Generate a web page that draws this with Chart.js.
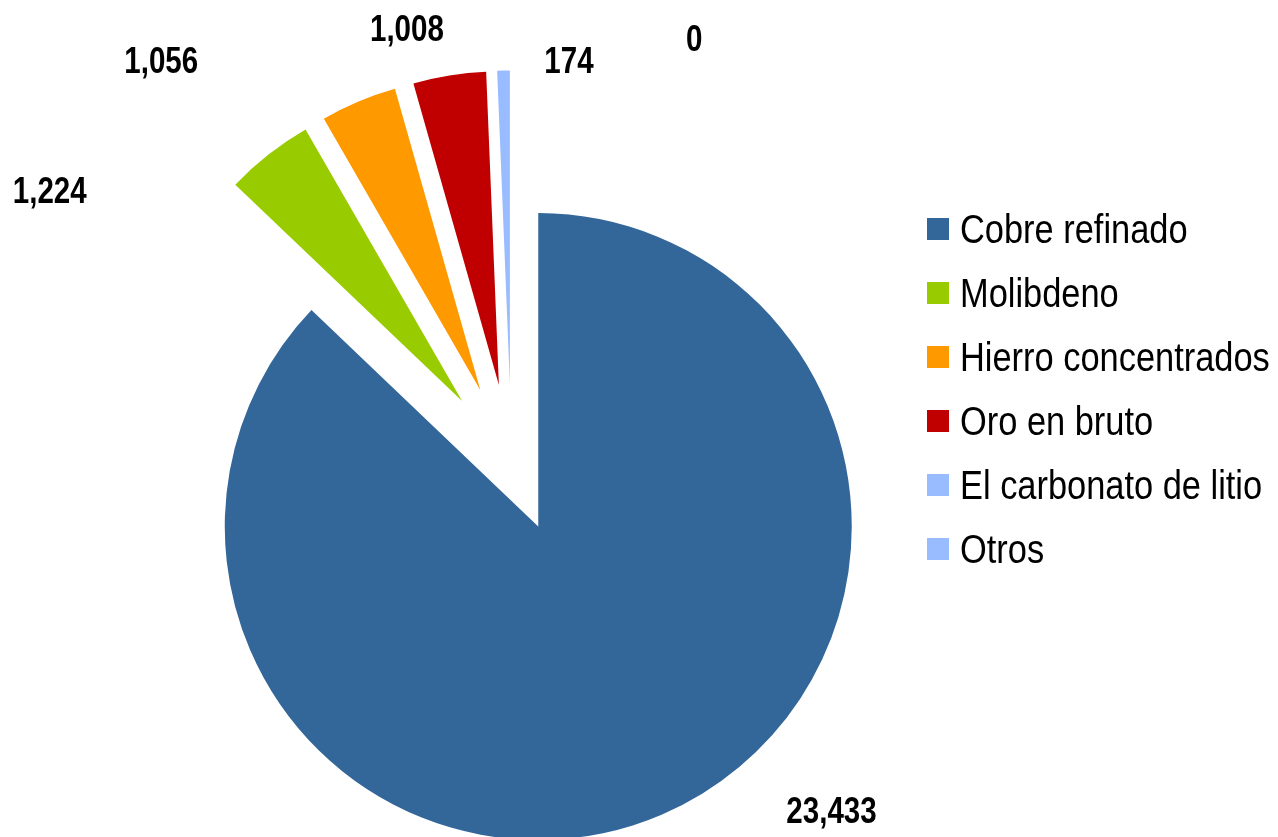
<!DOCTYPE html>
<html>
<head>
<meta charset="utf-8">
<script src="https://cdn.jsdelivr.net/npm/chart.js@4.4.1/dist/chart.umd.min.js"></script>
<style>
  html, body { margin: 0; padding: 0; background: #fff; overflow: hidden; }
  #wrap { position: relative; width: 1278px; height: 837px; overflow: hidden; }
  #chart { position: absolute; left: 0; top: 0; }
  #legend {
    position: absolute; left: 927px; top: 197px;
    font-family: "Liberation Sans", Arial, sans-serif;
    font-size: 40px; color: #000;
  }
  .row { display: flex; align-items: center; height: 64px; line-height: 64px; white-space: nowrap; }
  .box { width: 22px; height: 22px; margin-right: 11px; flex: none; }
  .txt { display: inline-block; transform: scaleX(0.86); transform-origin: left center; }
</style>
</head>
<body>
<div id="wrap">
  <canvas id="chart" width="1278" height="928"></canvas>
  <div id="legend"></div>
</div>
<script>
const labels = ["Cobre refinado", "Molibdeno", "Hierro concentrados", "Oro en bruto", "El carbonato de litio", "Otros"];
const values = [23433, 1224, 1056, 1008, 174, 0];
const colors = ["#336699", "#99CC00", "#FF9900", "#C00000", "#99BBFF", "#99BBFF"];

// how far each slice is pulled out from the centre (px)
const explode = [68, 80, 80, 80, 80, 80];
// value label placement: [angle clockwise from 12 o'clock (deg), distance from centre (px)]
const labelPlace = [[137.2, 471], [300.7, 537], [319.1, 535], [346.5, 448], [8.1, 408], [23.2, 464]];

const fmt = (v) => v.toLocaleString("en-US");

const explodePlugin = {
  id: "explode",
  beforeDatasetDraw(chart, args) {
    const ctx = chart.ctx;
    args.meta.data.forEach((arc, i) => {
      const mid = (arc.startAngle + arc.endAngle) / 2;
      ctx.save();
      ctx.translate(Math.cos(mid) * explode[i], Math.sin(mid) * explode[i]);
      arc.draw(ctx, chart.chartArea);
      ctx.restore();
    });
    return false;
  },
};

// bold narrow numbers next to the slices (Arial Narrow look: squeezed Liberation Sans)
const valueLabels = {
  id: "valueLabels",
  afterDatasetsDraw(chart) {
    const ctx = chart.ctx;
    const arcs = chart.getDatasetMeta(0).data;
    ctx.save();
    ctx.font = 'bold 36px "Liberation Sans", Arial, sans-serif';
    ctx.fillStyle = "#000";
    ctx.textAlign = "center";
    ctx.textBaseline = "alphabetic";
    arcs.forEach((arc, i) => {
      const [deg, dist] = labelPlace[i];
      const a = deg * Math.PI / 180;
      const x = arc.x + Math.sin(a) * dist;
      const y = arc.y - Math.cos(a) * dist;
      ctx.save();
      ctx.translate(x, y);
      ctx.scale(0.82, 1);
      ctx.fillText(fmt(values[i]), 0, 13);
      ctx.restore();
    });
    ctx.restore();
  },
};

new Chart(document.getElementById("chart"), {
  type: "pie",
  data: {
    labels: labels,
    datasets: [{
      data: values,
      backgroundColor: colors,
      borderWidth: 0,
      radius: 313.5,
    }],
  },
  options: {
    responsive: false,
    animation: false,
    layout: { padding: { left: 0, right: 255, top: 0, bottom: 0 } },
    plugins: {
      legend: { display: false },
      tooltip: { enabled: false },
    },
  },
  plugins: [explodePlugin, valueLabels],
});

document.getElementById("legend").innerHTML = labels.map((l, i) =>
  `<div class="row"><span class="box" style="background:${colors[i]}"></span><span class="txt">${l}</span></div>`
).join("");
</script>
</body>
</html>
